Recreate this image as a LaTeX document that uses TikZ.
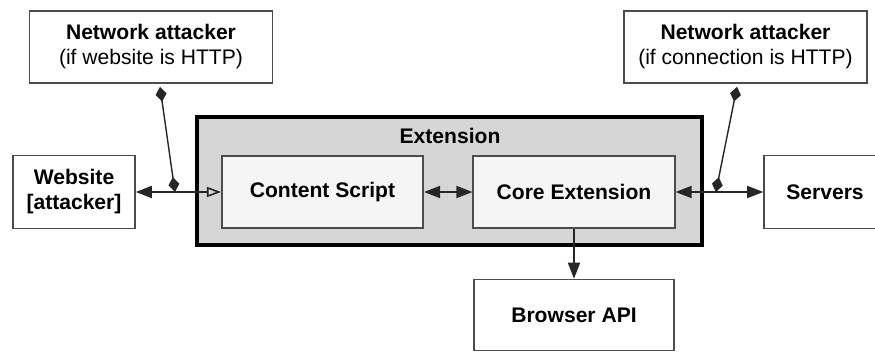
\documentclass[tikz,border=0pt]{standalone}
\usepackage{fontspec}
\setmainfont{Liberation Sans}
\usetikzlibrary{arrows.meta,calc}
\tikzset{
  txt/.style={font=\fontsize{12}{14.2}\selectfont},
  block/.style={txt, draw=black!70, line width=0.9pt, rectangle, minimum width=2.44cm, minimum height=1.46cm, inner sep=0pt, fill=white, align=center, font=\fontsize{12}{14.2}\selectfont\bfseries},
  attacker/.style={block, minimum width=4.86cm, minimum height=1.44cm, font=\fontsize{12}{14.2}\selectfont},
  module/.style={block, minimum width=4.03cm, minimum height=1.44cm, fill=black!4},
  container/.style={draw=black, line width=1.8pt, rectangle, fill=black!16, minimum width=10.1cm, minimum height=2.56cm, inner sep=0pt},
  link/.style={<->, line width=0.9pt, draw=black!85, >={Triangle[length=0.32cm,width=0.24cm]}},
  tap/.style={line width=0.8pt, draw=black!85, {Diamond[length=0.3cm,width=0.22cm]}-{Diamond[length=0.3cm,width=0.22cm]}}
}
\begin{document}
\begin{tikzpicture}
  \useasboundingbox (0,0) rectangle (17.5,7.04);
  \node[attacker] (att1) at (3.02,6.10) {\textbf{Network attacker}\\(if website is HTTP)};
  \node[attacker] (att2) at (14.91,6.10) {\textbf{Network attacker}\\(if connection is HTTP)};

  \node[container] (ext) at (8.99,3.42) {};
  \node[txt, font=\fontsize{12}{14.2}\selectfont\bfseries] (extlabel) at (9.0,4.33) {Extension};
  \node[module] (cs) at (6.45,3.20) {Content Script};
  \node[module] (core) at (11.48,3.20) {Core Extension};

  \node[block] (web) at (1.48,3.20) {Website\\{}[attacker]};
  \node[block] (srv) at (16.50,3.20) {Servers};
  \node[block, minimum width=4.0cm, minimum height=1.42cm] (api) at (11.48,0.74) {Browser API};

  \coordinate (tapl) at ($(web.east)!0.46!(cs.west)$);
  \coordinate (tapr) at ($(core.east)!0.46!(srv.west)$);

  \draw[link, <-{Triangle[open,length=0.28cm,width=0.2cm]}] (web) -- (cs);
  \draw[link] (cs) -- (core);
  \draw[link] (core) -- (srv);
  \draw[link, ->] (core) -- (api);
  \draw[tap] ($(att1.south)+(0.18,-0.06)$) -- (tapl);
  \draw[tap] ($(att2.south)+(-0.17,-0.06)$) -- (tapr);
\end{tikzpicture}
\end{document}
